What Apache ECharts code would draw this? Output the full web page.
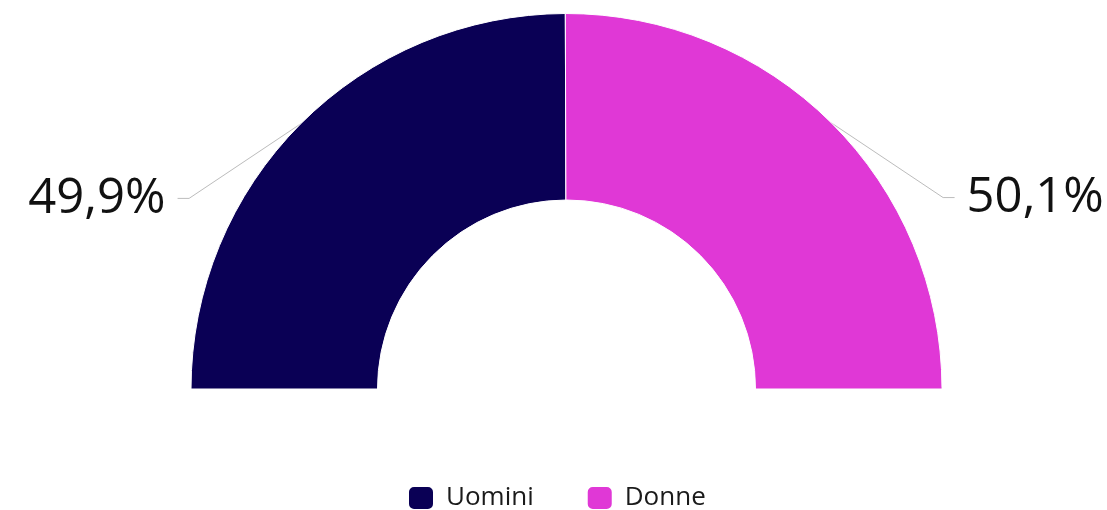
<!DOCTYPE html>
<html>
<head>
<meta charset="utf-8">
<title>Uomini e donne</title>
<script src="https://cdn.jsdelivr.net/npm/echarts@6/dist/echarts.min.js"></script>
<style>
  html, body { margin: 0; padding: 0; background: #ffffff; }
  #chart { width: 1107px; height: 510px; }
</style>
</head>
<body>
<div id="chart"></div>
<script>
// Share of population by gender (percent)
const categories = ['Uomini', 'Donne'];
const shares = [49.9, 50.1];
const colors = ['#0a0055', '#e038d6'];

const total = shares.reduce((a, b) => a + b, 0);
const fmt = v => v.toFixed(1).replace('.', ',') + '%';

const CENTER = [566.5, 389];
const RADIUS = [189, 375.5];
const FONT = "'Open Sans', 'Noto Sans', sans-serif";

const data = categories.map((name, i) => ({
  name,
  value: shares[i],
  itemStyle: { color: colors[i] }
}));
// invisible lower half that turns the ring into a semicircle
data.push({
  name: '',
  value: total,
  itemStyle: { color: 'none', borderWidth: 0 },
  label: { show: false },
  labelLine: { show: false },
  emphasis: { disabled: true },
  tooltip: { show: false }
});

// anchor on the outer arc at the middle of slice i
function arcAnchor(i) {
  let before = 0;
  for (let k = 0; k < i; k++) before += shares[k];
  const mid = before + shares[i] / 2;
  const ang = Math.PI - (mid / (total * 2)) * 2 * Math.PI;
  return [CENTER[0] + RADIUS[1] * Math.cos(ang), CENTER[1] - RADIUS[1] * Math.sin(ang)];
}

const chart = echarts.init(document.getElementById('chart'), null, { renderer: 'canvas' });
chart.setOption({
  animation: false,
  backgroundColor: '#ffffff',
  legend: {
    data: categories,
    left: 407,
    top: 485,
    padding: 0,
    icon: 'roundRect',
    itemWidth: 26,
    itemHeight: 24,
    itemGap: 52,
    selectedMode: false,
    textStyle: {
      fontFamily: FONT,
      fontSize: 26,
      color: '#1a1a1a',
      padding: [0, 0, 0, 7]
    }
  },
  series: [{
    type: 'pie',
    center: CENTER,
    radius: RADIUS,
    startAngle: 180,
    clockwise: true,
    avoidLabelOverlap: false,
    itemStyle: { borderColor: '#ffffff', borderWidth: 1 },
    emphasis: { disabled: true },
    label: {
      show: true,
      position: 'outside',
      formatter: p => fmt(p.value),
      fontFamily: FONT,
      fontWeight: 400,
      fontSize: 49,
      color: '#111111'
    },
    labelLine: {
      show: true,
      lineStyle: { color: '#bcbcbc', width: 1 }
    },
    labelLayout: function (p) {
      if (p.dataIndex >= categories.length) return {};
      const a = (p.labelLinePoints && p.labelLinePoints[0]) || arcAnchor(p.dataIndex);
      const left = a[0] < CENTER[0];
      const s = left ? -1 : 1;
      const ly = a[1] + 74.5;
      return {
        x: a[0] + s * 135,
        y: a[1] + 75,
        align: left ? 'right' : 'left',
        verticalAlign: 'middle',
        labelLinePoints: [[a[0], a[1]], [a[0] + s * 111.5, ly], [a[0] + s * 123, ly]]
      };
    },
    data: data
  }]
});
</script>
</body>
</html>
